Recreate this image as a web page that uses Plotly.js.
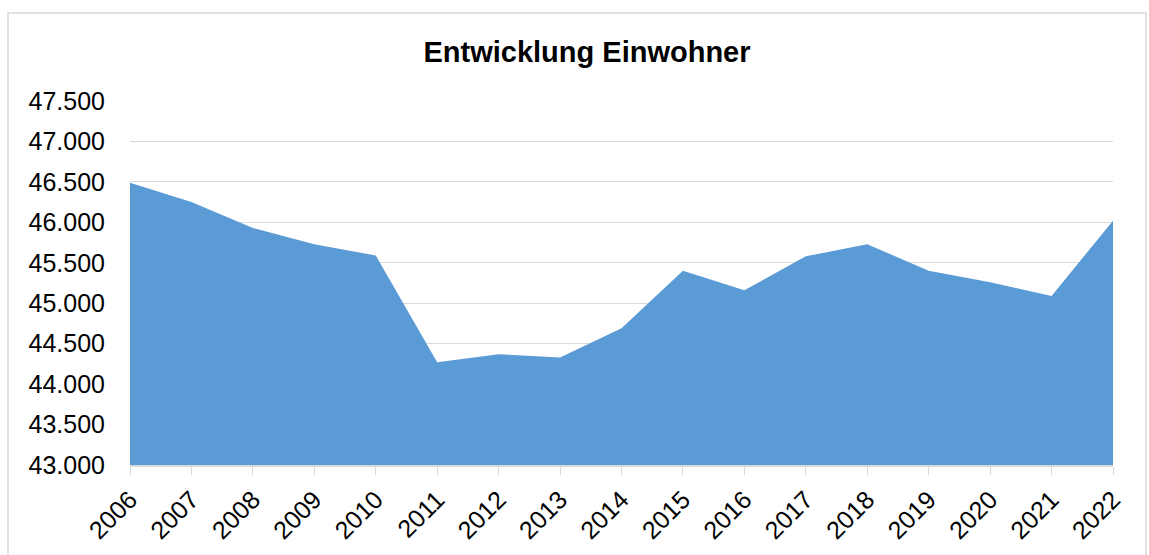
<!DOCTYPE html>
<html>
<head>
<meta charset="utf-8">
<script src="https://cdn.plot.ly/plotly-3.0.1.min.js"></script>
<style>
html,body{margin:0;padding:0;background:#fff;}
#chart{width:1149px;height:555px;}
</style>
</head>
<body>
<div id="chart"></div>
<script>
const years = ["2006","2007","2008","2009","2010","2011","2012","2013","2014","2015","2016","2017","2018","2019","2020","2021","2022"];
const einwohner = [46490, 46250, 45930, 45730, 45590, 44270, 44370, 44330, 44690, 45400, 45160, 45580, 45730, 45400, 45260, 45090, 46020];
const yTicks = [43000, 43500, 44000, 44500, 45000, 45500, 46000, 46500, 47000, 47500];
const titleText = "Entwicklung Einwohner";

const FONT = "Arial, 'Liberation Sans', sans-serif";

const trace = {
  type: "scatter",
  mode: "lines",
  x: years,
  y: einwohner,
  fill: "tozeroy",
  fillcolor: "#5b9bd5",
  line: {color: "#5b9bd5", width: 0},
  hoverinfo: "x+y"
};

const layout = {
  width: 1149,
  height: 555,
  margin: {l: 130, r: 36, t: 101, b: 90},
  paper_bgcolor: "#ffffff",
  plot_bgcolor: "#ffffff",
  separators: ",.",
  showlegend: false,
  font: {family: FONT, color: "#000000", size: 25},
  title: {
    text: "<b>" + titleText + "</b>",
    font: {family: FONT, size: 29, color: "#000000"},
    x: 587 / 1149,
    xref: "container",
    xanchor: "center",
    y: 1 - 52 / 555,
    yref: "container",
    yanchor: "middle"
  },
  xaxis: {
    type: "category",
    range: [0, years.length - 1],
    showgrid: false,
    showline: true,
    linecolor: "#d9d9d9",
    linewidth: 2,
    ticks: "outside",
    ticklen: 8,
    tickcolor: "#d9d9d9",
    tickwidth: 1,
    tickangle: -45,
    tickfont: {family: FONT, size: 25, color: "#000000"},
    zeroline: false
  },
  yaxis: {
    range: [43000, 47500],
    tickvals: yTicks,
    tickformat: ",.3f".replace(".3f", ".0f"),
    showgrid: true,
    gridcolor: "#d9d9d9",
    gridwidth: 1,
    showline: false,
    ticks: "",
    zeroline: false,
    ticklabelstandoff: 24,
    tickfont: {family: FONT, size: 25, color: "#000000"}
  },
  shapes: [{
    type: "rect",
    xref: "paper", yref: "paper",
    x0: (8 - 130) / 983, x1: (1146 - 130) / 983,
    y0: (465 - 570) / 364, y1: (465 - 13) / 364,
    line: {color: "#d9d9d9", width: 1.5},
    fillcolor: "rgba(0,0,0,0)",
    layer: "below"
  }]
};

Plotly.newPlot("chart", [trace], layout, {displayModeBar: false, staticPlot: true});
</script>
</body>
</html>
